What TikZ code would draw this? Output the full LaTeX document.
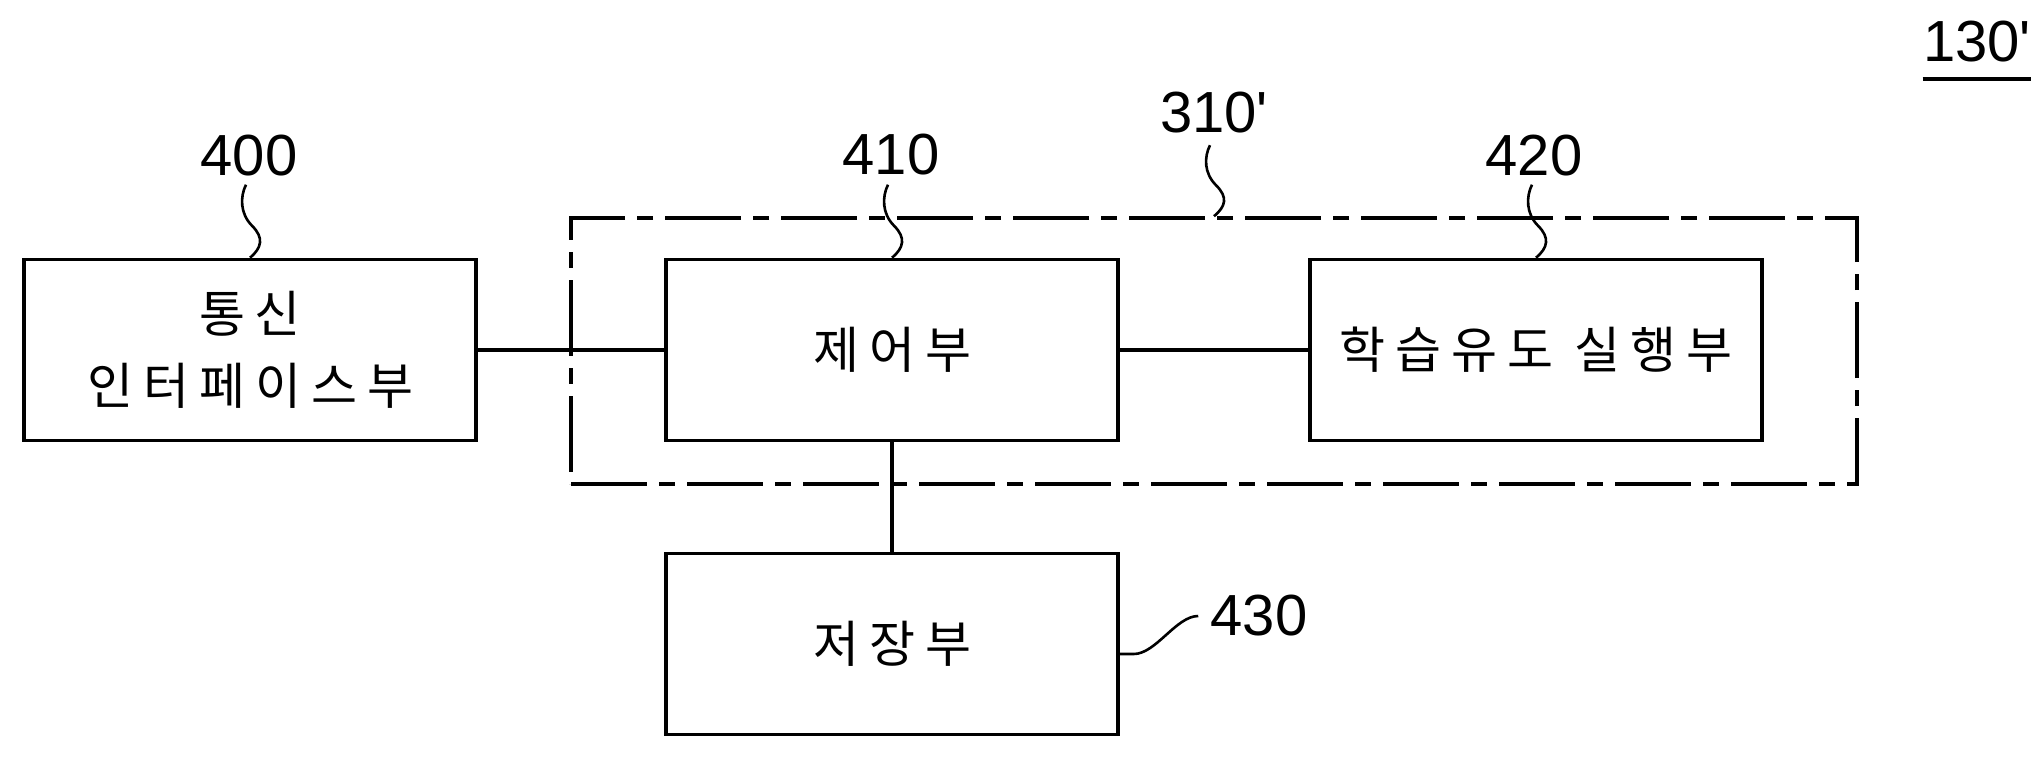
\documentclass[tikz,border=0pt]{standalone}
\usepackage{fontspec}
\setmainfont{Liberation Sans}
\newfontfamily\kr[LetterSpace=20]{Noto Sans CJK KR}
\usepackage{tikz}

\begin{document}
\begin{tikzpicture}[x=0.5pt,y=-0.5pt,
    blk/.style={draw,line width=1.8pt,minimum width=226pt,minimum height=90.5pt,
        inner sep=0pt,align=center,font=\kr\fontsize{25}{36}\selectfont},
    num/.style={inner sep=0pt,font=\fontsize{29}{30}\selectfont},
    link/.style={line width=1.6pt},
    leader/.style={line width=1.3pt}]
    \useasboundingbox (0,0) rectangle (2041,756);

    % group 310'
    \node (g310) at (1214,351) [draw,line width=1.8pt,
        dash pattern=on 38pt off 6pt on 8pt off 6pt,
        minimum width=643pt,minimum height=133pt] {};

    % blocks
    \node[blk] (b400) at (250,350) {통신\\인터페이스부};
    \node[blk] (b410) at (892,350) {제어부};
    \node[blk] (b420) at (1536,350) {학습유도 실행부};
    \node[blk] (b430) at (892,644) {저장부};

    \draw[link] (b400) -- (b410);
    \draw[link] (b410) -- (b420);
    \draw[link] (b410) -- (b430);

    % reference numerals
    \node[num] (l400) at (249,156) {400};
    \node[num] (l410) at (891,155) {410};
    \node[num] (l420) at (1534,156) {420};
    \node[num] (l310) at (1214,113) {310\textquotesingle};
    \node[num] (l430) at (1259,616) {430};
    \node[num] (l130) at (1977,42) {130\textquotesingle};
    \draw[line width=1.7pt] ([yshift=-8pt]l130.south west) -- ([yshift=-8pt]l130.south east);

    \draw[leader] (b400.north) .. controls +(12,-10) and +(12,12) .. ++(2,-32)
        .. controls +(-12,-12) and +(-6,12) .. ++(-6,-41);
    \draw[leader] (b410.north) .. controls +(12,-10) and +(12,12) .. ++(2,-32)
        .. controls +(-12,-12) and +(-6,12) .. ++(-6,-41);
    \draw[leader] (b420.north) .. controls +(12,-10) and +(12,12) .. ++(2,-32)
        .. controls +(-12,-12) and +(-6,12) .. ++(-6,-41);
    \draw[leader] (g310.north) .. controls +(12,-10) and +(12,12) .. ++(2,-31)
        .. controls +(-12,-12) and +(-6,12) .. ++(-6,-40);
    \draw[leader] ([yshift=-5pt]b430.east) -- ++(14,0)
        .. controls +(22,0) and +(-22,0) .. ([xshift=-6pt]l430.west);
\end{tikzpicture}
\end{document}
